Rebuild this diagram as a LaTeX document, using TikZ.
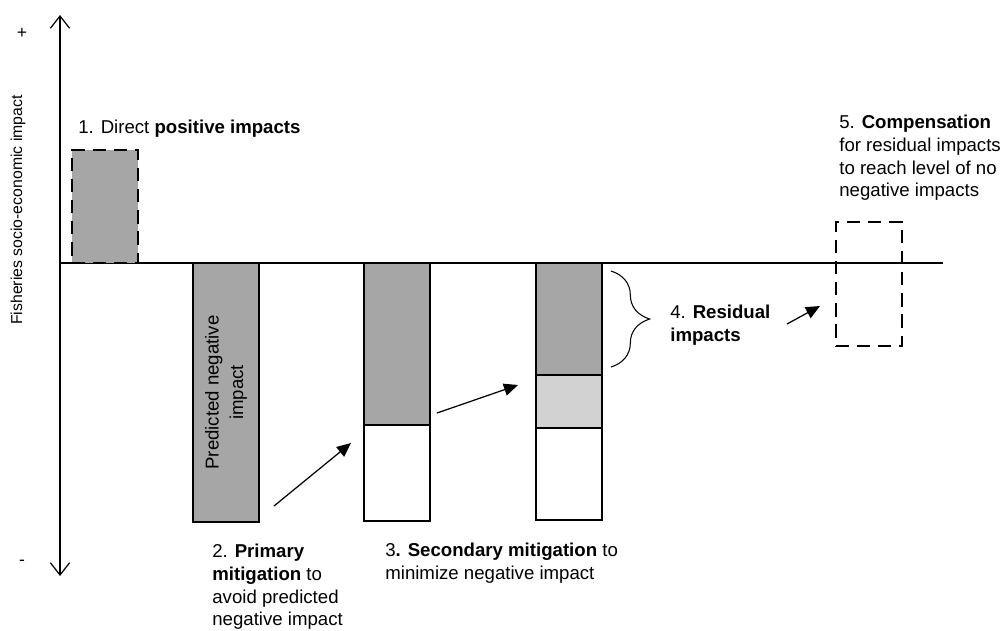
\documentclass[tikz,border=0pt]{standalone}
\usepackage{fontspec}
\setmainfont{Liberation Sans}
\usetikzlibrary{arrows.meta,positioning,decorations.pathreplacing}
\definecolor{darkbar}{RGB}{166,166,166}
\definecolor{lightbar}{RGB}{210,210,210}
\tikzset{
  basic/.style   = {draw, line width=1.3pt, rectangle, inner sep=0pt,
                    outer sep=0pt, minimum width=1.32cm, anchor=north west},
  dark/.style    = {basic, fill=darkbar},
  light/.style   = {basic, fill=lightbar},
  blank/.style   = {basic, fill=white},
  dashbox/.style = {basic, dash pattern=on 7.5pt off 4.5pt},
  txt/.style     = {inner sep=0pt, align=left, anchor=north west,
                    font=\fontsize{10.6}{12.9}\selectfont},
  axisline/.style = {line width=0.7pt},
}

\begin{document}
\begin{tikzpicture}[x=0.02cm, y=-0.02cm,
  >={Triangle[length=8pt,width=7pt]}]
\useasboundingbox (0,0) rectangle (1005,630);

% axes
\coordinate (top) at (60,15);
\coordinate (bot) at (60,576);
\coordinate (zero) at (60,263);
\coordinate (xend) at (943,263);
\draw[axisline, {Straight Barb[length=7pt,width=11pt]}-{Straight Barb[length=7pt,width=11pt]}] (top) -- (bot);
\draw[axisline] (zero) -- (xend);

\node[rotate=90, font=\fontsize{9}{10}\selectfont] (ylab) at (18,210) {Fisheries socio-economic impact};
\node[font=\fontsize{10}{11}\selectfont] (plus) at (22,33) {+};
\node[font=\fontsize{10}{11}\selectfont] (minus) at (22,563) {-};

% bars
\node[dark, dashbox, minimum height=2.26cm] (b1) at (72,150) {};
\node[dark, minimum height=5.18cm] (b2) at (193,263) {};
\node[rotate=90, align=center, font=\fontsize{10.6}{14}\selectfont] (b2t) at (b2.center) {Predicted negative\\impact};

\node[dark, minimum height=3.24cm] (b3) at (364,263) {};
\node[blank, minimum height=1.92cm] (b3w) at (b3.south west) {};

\node[dark, minimum height=2.24cm] (b4) at (536,263) {};
\node[light, minimum height=1.06cm] (b4l) at (b4.south west) {};
\node[blank, minimum height=1.84cm] (b4w) at (b4l.south west) {};

\node[dashbox, minimum height=2.48cm] (b5) at (836,222) {};

% brace
\coordinate (br1) at (611,271);
\coordinate (br2) at (611,367);
\draw[decorate, decoration={brace, amplitude=22pt}, line width=0.6pt] (br1) -- (br2);

% arrows
\coordinate (p1) at (274,506);
\coordinate (q1) at (351,443);
\coordinate (p2) at (437,413);
\coordinate (q2) at (518,385);
\coordinate (p3) at (787,324);
\coordinate (q3) at (820,306);
\foreach \value in {1,2,3}
  \draw[->, line width=0.7pt] (p\value) -- (q\value);

% labels
\node[txt] (t1) at (78,120) {1. Direct \textbf{positive impacts}};
\node[txt] (t2) at (212,544) {2. \textbf{Primary}\\\textbf{mitigation} to\\avoid predicted\\negative impact};
\node[txt] (t3) at (385,543) {3\textbf{. Secondary mitigation} to\\minimize negative impact};
\node[txt] (t4) at (670,305) {4. \textbf{Residual}\\\textbf{impacts}};
\node[txt] (t5) at (839,115) {5. \textbf{Compensation}\\for residual impacts\\to reach level of no\\negative impacts};

\end{tikzpicture}
\end{document}
